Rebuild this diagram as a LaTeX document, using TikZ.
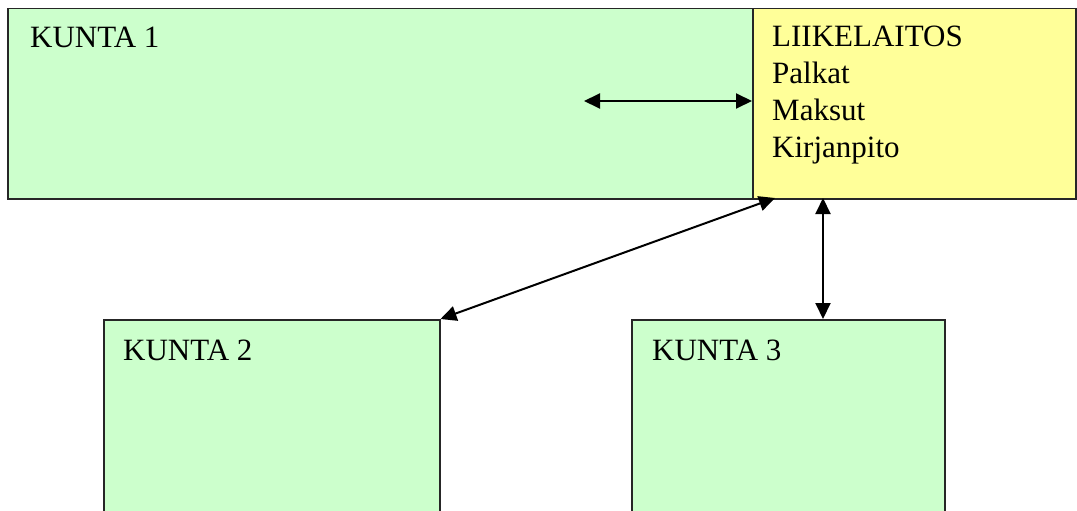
\documentclass[tikz,border=0pt]{standalone}
\usepackage{fontspec}
\setmainfont{Liberation Serif}
\usepackage{tikz}
\usetikzlibrary{arrows.meta}

\definecolor{vihrea}{HTML}{CCFFCC}
\definecolor{keltainen}{HTML}{FFFF99}

\tikzset{
    laatikko/.style={draw=black!85, line width=1.5pt, inner sep=0pt, anchor=north west},
    kunta/.style={laatikko, fill=vihrea},
    teksti/.style={inner sep=0pt, align=left, font=\fontsize{31}{37}\selectfont},
    nuoli/.style={{Triangle[length=16pt,width=15pt]}-{Triangle[length=16pt,width=15pt]}, line width=2pt}
}

\begin{document}
\begin{tikzpicture}[x=1pt, y=-1pt]
\useasboundingbox (0,0) rectangle (1077,511);
\clip (0,0) rectangle (1077,511);

\node[kunta, minimum width=745pt, minimum height=190pt] (kunta1) at (7,8) {};
\node[laatikko, fill=keltainen, minimum width=323pt, minimum height=190pt] (liike) at (752,8) {};
\node[kunta, minimum width=336pt, minimum height=250pt] (kunta2) at (103,319) {};
\node[kunta, minimum width=313pt, minimum height=250pt] (kunta3) at (631,319) {};

\node[teksti, anchor=base west] (t1) at (30,48) {KUNTA 1};
\node[teksti, anchor=north west] (tl) at (772,26) {LIIKELAITOS\\Palkat\\Maksut\\Kirjanpito};
\node[teksti, anchor=base west] (t2) at (123,360) {KUNTA 2};
\node[teksti, anchor=base west] (t3) at (652,360) {KUNTA 3};

\coordinate (vasen) at (584,101);
\coordinate (vino) at (775,198);
\coordinate (pysty) at (823,198);

\draw[nuoli] (vasen) -- (vasen -| liike.west);
\draw[nuoli] (kunta2.north east) -- (vino);
\draw[nuoli] (pysty) -- (pysty |- kunta3.north);
\end{tikzpicture}
\end{document}
